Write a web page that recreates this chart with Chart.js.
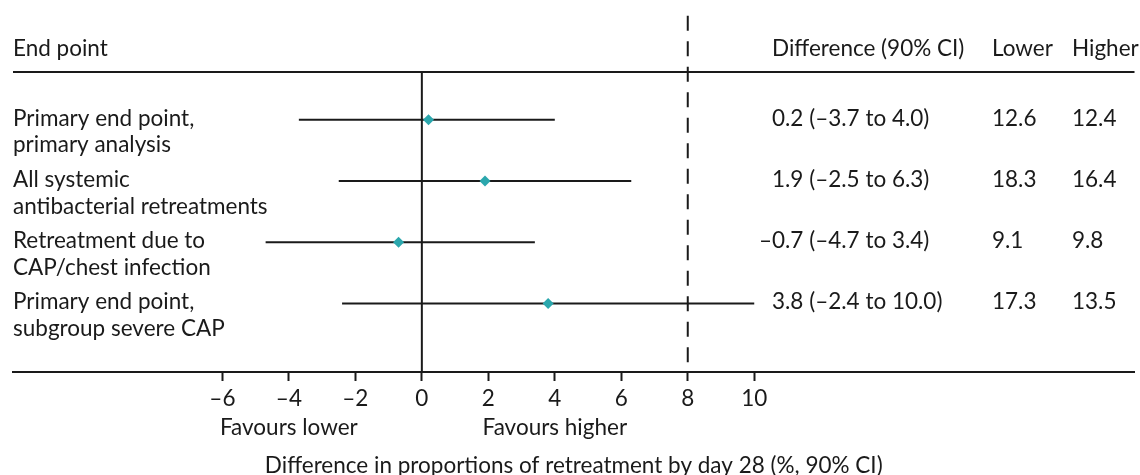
<!DOCTYPE html>
<html>
<head>
<meta charset="utf-8">
<script src="https://cdn.jsdelivr.net/npm/chart.js@4.4.0/dist/chart.umd.min.js"></script>
<style>
  html, body { margin: 0; padding: 0; background: #fff; }
</style>
</head>
<body>
<canvas id="forestChart" width="1140" height="475"></canvas>
<script>
// rows, top to bottom
const endPoints = [
  ['Primary end point,', 'primary analysis'],
  ['All systemic', 'antibacterial retreatments'],
  ['Retreatment due to', 'CAP/chest infection'],
  ['Primary end point,', 'subgroup severe CAP']
];
const differences = [0.2, 1.9, -0.7, 3.8];
const ciLower = [-3.7, -2.5, -4.7, -2.4];
const ciUpper = [4.0, 6.3, 3.4, 10.0];
const pctLower = [12.6, 18.3, 9.1, 17.3];
const pctHigher = [12.4, 16.4, 9.8, 13.5];

const tickValues = [-6, -4, -2, 0, 2, 4, 6, 8, 10];
const noInferiorityMargin = 8;
const headers = ['End point', 'Difference (90% CI)', 'Lower', 'Higher'];
const favourLabels = [[-4, 'Favours lower'], [4, 'Favours higher']];
const axisTitle = 'Difference in proportions of retreatment by day 28 (%, 90% CI)';

const X_MIN = -12.3, X_MAX = 21.44;
const Y_MIN = 0.22, Y_MAX = 5.12;
const INK = '#1a1a1a';
const TEAL = '#2ba7ad';
const FONT_SIZE = 22.5;
const FONT = FONT_SIZE + 'px Lato';

const fmt = v => (v < 0 ? '\u2013' : '') + Math.abs(v).toFixed(1);

const rowY = endPoints.map((_, i) => i + 1);

const ciSets = endPoints.map((_, i) => ({
  type: 'line',
  data: [{ x: ciLower[i], y: rowY[i] }, { x: ciUpper[i], y: rowY[i] }],
  borderColor: INK,
  borderWidth: 2,
  pointRadius: 0,
  order: 2
}));

// text columns, header rule, favours labels
const tablePlugin = {
  id: 'forestTable',
  afterDraw(chart) {
    const { ctx, chartArea, scales } = chart;
    const x = scales.x, y = scales.y;
    ctx.save();
    ctx.strokeStyle = INK;
    ctx.lineWidth = 2;
    ctx.beginPath();
    ctx.moveTo(chartArea.left, chartArea.top);
    ctx.lineTo(chartArea.right, chartArea.top);
    ctx.stroke();

    ctx.font = FONT;
    ctx.fillStyle = INK;
    ctx.textBaseline = 'alphabetic';
    ctx.textAlign = 'left';
    const cols = [13, 772, 992, 1072];
    headers.forEach((h, i) => ctx.fillText(h, cols[i], 56));

    const dash = ctx.measureText('\u2013').width;
    endPoints.forEach((lines, i) => {
      const base = y.getPixelForValue(rowY[i]) + 6;
      lines.forEach((t, j) => ctx.fillText(t, cols[0], base + j * 26.7));
      const diff = fmt(differences[i]) + ' (' + fmt(ciLower[i]) + ' to ' + fmt(ciUpper[i]) + ')';
      ctx.fillText(diff, cols[1] - (differences[i] < 0 ? dash : 0), base);
      ctx.fillText(pctLower[i].toFixed(1), cols[2], base);
      ctx.fillText(pctHigher[i].toFixed(1), cols[3], base);
    });

    ctx.textAlign = 'center';
    favourLabels.forEach(([v, t]) => ctx.fillText(t, x.getPixelForValue(v), 435));
    ctx.restore();
  }
};

new Chart(document.getElementById('forestChart'), {
  data: {
    datasets: [
      {
        type: 'scatter',
        data: differences.map((d, i) => ({ x: d, y: rowY[i] })),
        pointStyle: 'rectRot',
        pointRadius: 5.5,
        backgroundColor: TEAL,
        borderWidth: 0,
        order: 0
      },
      {
        type: 'line',
        data: [{ x: 0, y: Y_MIN }, { x: 0, y: Y_MAX }],
        borderColor: INK,
        borderWidth: 2,
        pointRadius: 0,
        order: 3
      },
      {
        type: 'line',
        data: [{ x: noInferiorityMargin, y: -0.7 }, { x: noInferiorityMargin, y: Y_MAX }],
        borderColor: INK,
        borderWidth: 2,
        borderDash: [15, 10.5],
        pointRadius: 0,
        clip: false,
        order: 3
      },
      ...ciSets
    ]
  },
  options: {
    responsive: false,
    animation: false,
    layout: { padding: { top: 72, left: 13, right: 0, bottom: 0 } },
    plugins: { legend: { display: false }, tooltip: { enabled: false } },
    scales: {
      x: {
        type: 'linear',
        position: 'bottom',
        min: X_MIN,
        max: X_MAX,
        afterBuildTicks: s => { s.ticks = tickValues.map(v => ({ value: v })); },
        afterFit: s => { s.height = 103; },
        ticks: {
          callback: v => (v < 0 ? '\u2013' : '') + Math.abs(v),
          color: INK,
          font: { family: 'Lato', size: FONT_SIZE, lineHeight: 1.2 },
          padding: 4,
          autoSkip: false,
          maxRotation: 0
        },
        grid: { drawOnChartArea: false, drawTicks: true, tickLength: 9, tickWidth: 2, tickColor: INK },
        border: { display: true, color: INK, width: 2 },
        title: {
          display: true,
          text: axisTitle,
          color: INK,
          font: { family: 'Lato', size: FONT_SIZE, lineHeight: 0.86 },
          padding: 0
        }
      },
      y: { type: 'linear', display: false, min: Y_MIN, max: Y_MAX, reverse: true }
    }
  },
  plugins: [tablePlugin]
});
</script>
</body>
</html>
